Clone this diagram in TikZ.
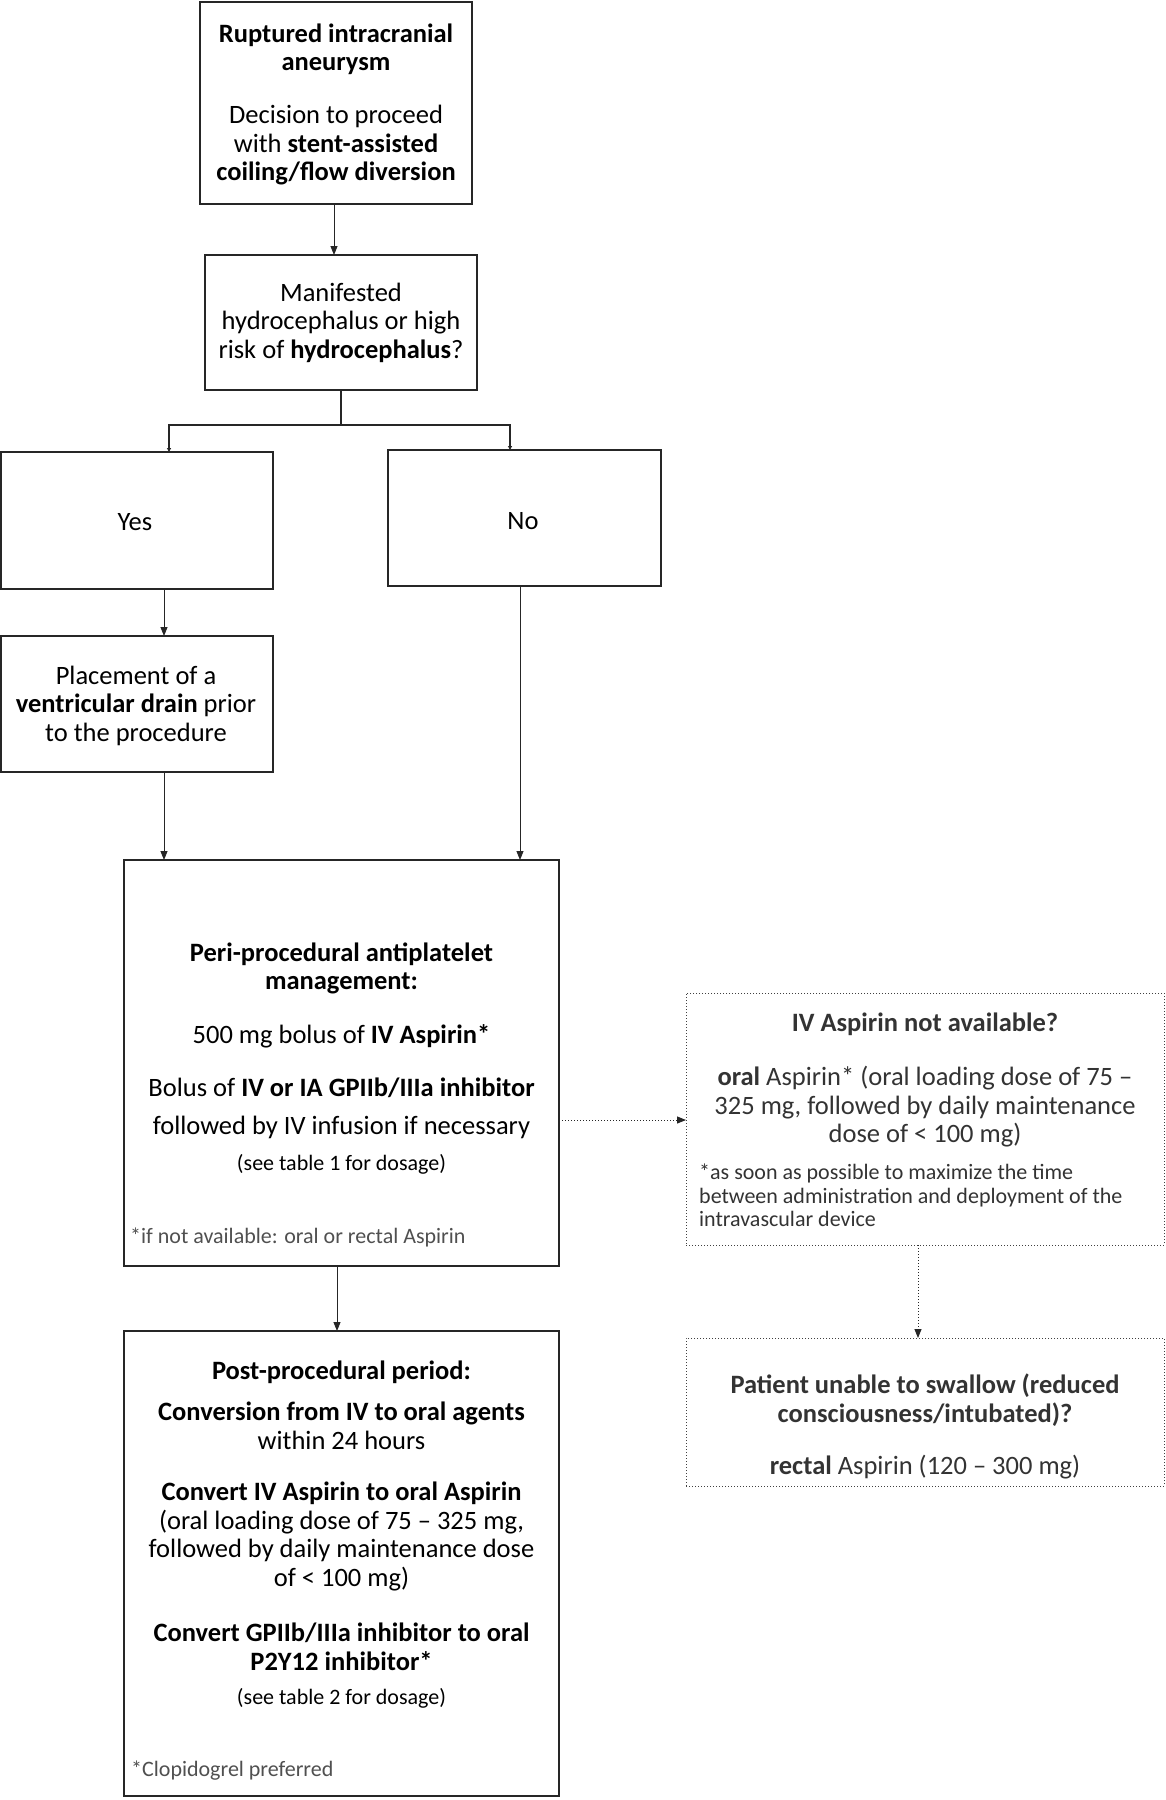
\documentclass[tikz,border=0pt]{standalone}
\usepackage{fontspec}
\setmainfont{Carlito}
\usetikzlibrary{arrows.meta}
\definecolor{dtext}{HTML}{333333}
\definecolor{ftext}{HTML}{505050}
\begin{document}
\begin{tikzpicture}[x=1pt,y=-1pt,
  box/.style={draw=black!85, line width=1.3pt, anchor=north west, inner sep=0pt, outer sep=0pt},
  dbox/.style={draw=black!75, line width=1pt, dotted, anchor=north west, inner sep=0pt, outer sep=0pt},
  txt/.style={align=center, inner sep=0pt, font=\fontsize{26.5}{28.5}\selectfont, text=black},
  small/.style={align=center, inner sep=0pt, font=\fontsize{22}{24}\selectfont, text=black},
  foot/.style={align=left, inner sep=0pt, anchor=west, font=\fontsize{22}{24}\selectfont, text=ftext},
  dtxt/.style={align=center, inner sep=0pt, font=\fontsize{26.5}{28.5}\selectfont, text=dtext},
  dfoot/.style={align=left, inner sep=0pt, anchor=west, font=\fontsize{22}{23.5}\selectfont, text=dtext},
  arr/.style={-{Triangle[length=9pt,width=7pt]}, line width=0.9pt, draw=black!85},
  tarr/.style={-{Triangle[length=4pt,width=4pt]}, line width=1.2pt, draw=black!85},
  darr/.style={-{Triangle[length=9pt,width=7pt]}, line width=1pt, dotted, draw=black!85},
]
\useasboundingbox[fill=white] (0,0) rectangle (1166,1800);

% boxes
\node[box, minimum width=272pt, minimum height=202pt] (b1) at (200,2) {};
\node[box, minimum width=272pt, minimum height=135pt] (b2) at (205,255) {};
\node[box, minimum width=272pt, minimum height=137pt] (yes) at (1,452) {};
\node[box, minimum width=273pt, minimum height=136pt] (no) at (388,450) {};
\node[box, minimum width=272pt, minimum height=136pt] (pl) at (1,636) {};
\node[box, minimum width=435pt, minimum height=406pt] (peri) at (124,860) {};
\node[box, minimum width=435pt, minimum height=465pt] (post) at (124,1331) {};
\node[dbox, minimum width=478pt, minimum height=252pt] (d1) at (686,993) {};
\node[dbox, minimum width=478pt, minimum height=148pt] (d2) at (686,1338) {};

% texts
\begin{scope}[shift={(0,3.5)}]
\node[txt] (t1a) at (336,46) {\textbf{Ruptured intracranial}\\\textbf{aneurysm}};
\node[txt] (t1b) at (336,142) {Decision to proceed\\with \textbf{stent-assisted}\\\textbf{coiling/flow diversion}};
\node[txt] (t2) at (341,319) {Manifested\\hydrocephalus or high\\risk of \textbf{hydrocephalus}?};
\node[txt] (tyes) at (135,519) {Yes};
\node[txt] (tno) at (523,518) {No};
\node[txt] (tpl) at (136,702) {Placement of a\\\textbf{ventricular drain} prior\\to the procedure};

\node[txt] (tp1) at (341.5,965) {\textbf{Peri-procedural antiplatelet}\\\textbf{management:}};
\node[txt] (tp2) at (341.5,1033) {500 mg bolus of \textbf{IV Aspirin*}};
\node[txt] (tp3) at (341.5,1084) {Bolus of \textbf{IV or IA GPIIb/IIIa inhibitor}};
\node[txt] (tp4) at (341.5,1124) {followed by IV infusion if necessary};
\node[small] (tp5) at (341.5,1161) {(see table 1 for dosage)};
\node[foot] (tp6) at (130,1234) {*if not available: oral or rectal Aspirin};

\node[dtxt] (td1) at (925,1021) {\textbf{IV Aspirin not available?}};
\node[dtxt] (td2) at (925,1103.5) {\textbf{oral} Aspirin* (oral loading dose of 75 --\\325 mg, followed by daily maintenance\\dose of < 100 mg)};
\node[dfoot] (td3) at (699,1192) {*as soon as possible to maximize the time\\between administration and deployment of the\\intravascular device};

\node[dtxt] (te1) at (925,1396.5) {\textbf{Patient unable to swallow (reduced}\\\textbf{consciousness/intubated)?}};
\node[dtxt] (te2) at (925,1464) {\textbf{rectal} Aspirin (120 -- 300 mg)};

\node[txt] (tq1) at (341.5,1369) {\textbf{Post-procedural period:}};
\node[txt] (tq2) at (341.5,1422.5) {\textbf{Conversion from IV to oral agents}\\within 24 hours};
\node[txt] (tq3) at (341.5,1533) {\textbf{Convert IV Aspirin to oral Aspirin}\\(oral loading dose of 75 -- 325 mg,\\followed by daily maintenance dose\\of < 100 mg)};
\node[txt] (tq4) at (341.5,1643.5) {\textbf{Convert GPIIb/IIIa inhibitor to oral}\\\textbf{P2Y12 inhibitor*}};
\node[small] (tq5) at (341.5,1695) {(see table 2 for dosage)};
\node[foot] (tq6) at (131,1767) {*Clopidogrel preferred};
\end{scope}

% connectors
\coordinate (split) at (341,425);
\draw[arr] (b1.south -| 334,0) -- (b2.north -| 334,0);
\draw[line width=1.2pt, draw=black!85] (b2.south -| split) -- (split);
\draw[tarr] (split) -| (yes.north -| 169,0);
\draw[tarr] (split) -| (no.north -| 510,0);
\draw[arr] (yes.south -| 164,0) -- (pl.north -| 164,0);
\draw[arr] (pl.south -| 164,0) -- (peri.north -| 164,0);
\draw[arr] (no.south -| 520,0) -- (peri.north -| 520,0);
\draw[arr] (peri.south -| 337,0) -- (post.north -| 337,0);
\draw[darr] (peri.east |- 0,1120) -- (d1.west |- 0,1120);
\draw[darr] (d1.south -| 918,0) -- (d2.north -| 918,0);
\end{tikzpicture}
\end{document}
